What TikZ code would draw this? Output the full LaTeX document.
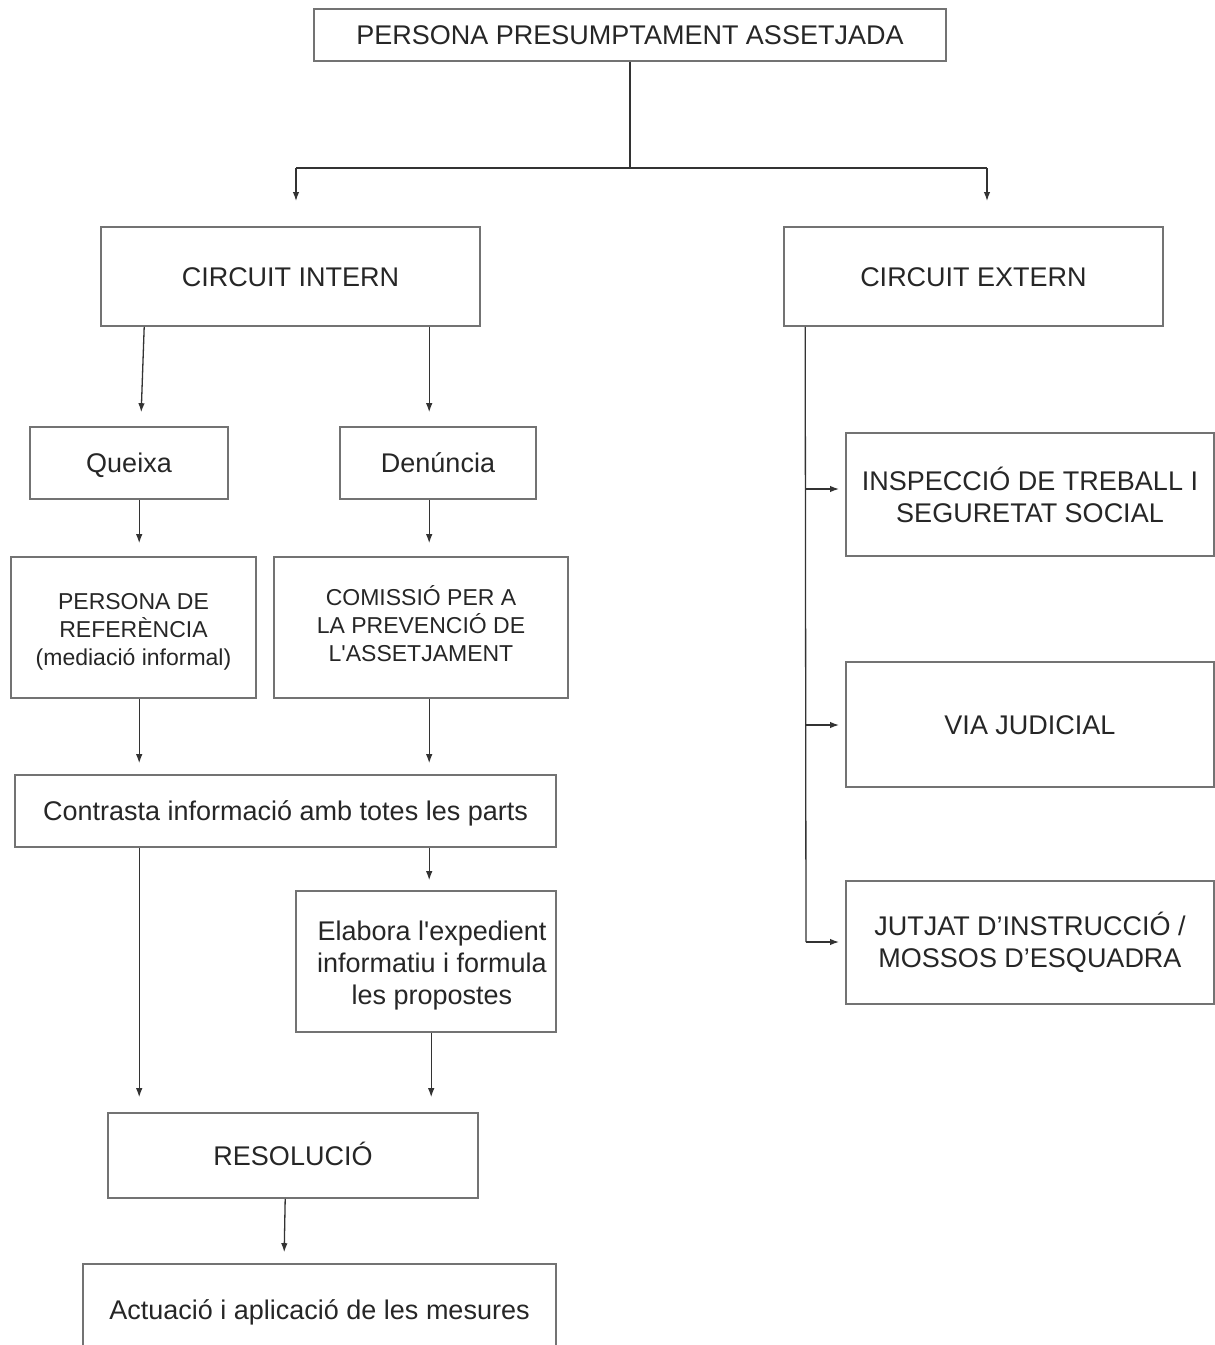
\documentclass[tikz,border=0pt]{standalone}
\usepackage{fontspec}
\setmainfont{Liberation Sans}[Ligatures=TeXOff]
\usetikzlibrary{arrows.meta}
\begin{document}
\begin{tikzpicture}[x=1pt,y=-1pt,
 box/.style={draw=black!55, line width=1.6pt, inner sep=0pt, align=center, text=black!85, font=\fontsize{27}{32}\selectfont},
 one/.style={text height=19.3pt, text depth=0pt},
 txt/.style={inner sep=0pt, align=center, text=black!85, font=\fontsize{27}{32}\selectfont},
 small/.style={font=\fontsize{23}{28}\selectfont},
 arr/.style={draw=black!80, line width=1.3pt, -{Latex[length=9pt,width=6.5pt]}},
 ln/.style={draw=black!80, line width=1.3pt}]
\useasboundingbox (0,0) rectangle (1215,1345);
% nodes
\node[box, one, minimum width=632pt, minimum height=52pt] (top) at (630,35) {PERSONA PRESUMPTAMENT ASSETJADA};
\node[box, one, minimum width=379pt, minimum height=99pt] (ci) at (290.5,276.5) {CIRCUIT INTERN};
\node[box, one, minimum width=379pt, minimum height=99pt] (ce) at (973.5,276.5) {CIRCUIT EXTERN};
\node[box, one, minimum width=198pt, minimum height=72pt] (qx) at (129,463) {Queixa};
\node[box, one, minimum width=196pt, minimum height=72pt] (dn) at (438,463) {Denúncia};
\node[box, minimum width=245pt, minimum height=141pt] (pr) at (133.5,627.5) {};
\node[txt, small] (prt) at (133.5,631.5) {PERSONA DE\\REFERÈNCIA\\(mediació informal)};
\node[box, minimum width=294pt, minimum height=141pt] (cm) at (421,627.5) {};
\node[txt, small] (cmt) at (421,623.5) {COMISSIÓ PER A\\LA PREVENCIÓ DE\\L'ASSETJAMENT};
\node[box, one, minimum width=541pt, minimum height=72pt] (ct) at (285.5,811) {Contrasta informació amb totes les parts};
\node[box, minimum width=260pt, minimum height=141pt] (el) at (426,961.5) {};
\node[txt] (elt) at (432,965.5) {Elabora l'expedient\\informatiu i formula\\les propostes};
\node[box, one, minimum width=370pt, minimum height=85pt] (rs) at (293,1155.5) {RESOLUCIÓ};
\node[box, one, minimum width=473pt, minimum height=92pt] (ac) at (319.5,1310) {Actuació i aplicació de les mesures};
\node[box, minimum width=368pt, minimum height=123pt] (in) at (1030,494.5) {INSPECCIÓ DE TREBALL I\\SEGURETAT SOCIAL};
\node[box, one, minimum width=368pt, minimum height=125pt] (vj) at (1030,724.5) {VIA JUDICIAL};
\node[box, minimum width=368pt, minimum height=123pt] (jt) at (1030,942.5) {JUTJAT D’INSTRUCCIÓ /\\MOSSOS D’ESQUADRA};
% coordinates
\coordinate (j0) at (630,168);
\coordinate (jl) at (296,168);
\coordinate (jr) at (987,168);
\coordinate (v3) at (806,942);
\coordinate (h1) at (806,489);
\coordinate (h2) at (806,725);
% top branch
\draw[ln] (top.south) -- (j0);
\draw[ln] (jl) -- (jr);
\draw[arr] (jl) -- ++(0,33);
\draw[arr] (jr) -- ++(0,33);
% internal circuit
\draw[arr] ([xshift=44pt]ci.south west) -- ([xshift=112pt,yshift=14pt]qx.north west);
\draw[arr] ([xshift=329pt]ci.south west) -- ([xshift=90pt,yshift=14pt]dn.north west);
\draw[arr] ([xshift=110pt]qx.south west) -- ([xshift=129pt,yshift=13pt]pr.north west);
\draw[arr] ([xshift=90pt]dn.south west) -- ([xshift=156pt,yshift=13pt]cm.north west);
\draw[arr] ([xshift=129pt]pr.south west) -- ([xshift=125pt,yshift=11pt]ct.north west);
\draw[arr] ([xshift=156pt]cm.south west) -- ([xshift=415pt,yshift=11pt]ct.north west);
\draw[arr] ([xshift=415pt]ct.south west) -- ([xshift=134pt,yshift=10pt]el.north west);
\draw[arr] ([xshift=125pt]ct.south west) -- ([xshift=32pt,yshift=15pt]rs.north west);
\draw[arr] ([xshift=136pt]el.south west) -- ([xshift=324pt,yshift=15pt]rs.north west);
\draw[arr] ([xshift=178pt]rs.south west) -- ([xshift=202pt,yshift=11pt]ac.north west);
% external circuit
\draw[ln] ([xshift=22pt]ce.south west) -- (v3);
\draw[arr] (h1) -- ++(33,0);
\draw[arr] (h2) -- ++(33,0);
\draw[arr] (v3) -- ++(33,0);
\end{tikzpicture}
\end{document}
